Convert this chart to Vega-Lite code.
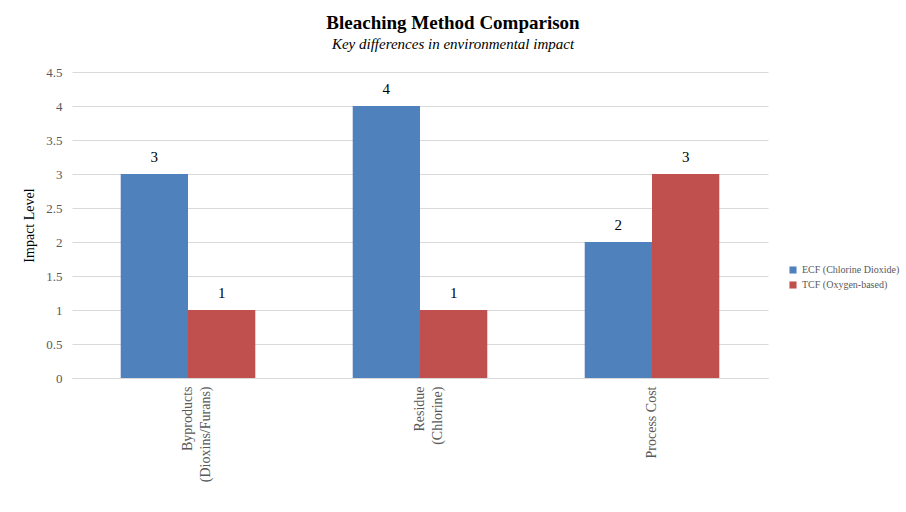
{
  "$schema": "https://vega.github.io/schema/vega-lite/v6.json",
  "autosize": {"type": "none"},
  "width": 696,
  "height": 306,
  "padding": {"left": 72, "top": 72, "right": 138, "bottom": 134},
  "background": "white",
  "title": {
    "text": "Bleaching Method Comparison",
    "subtitle": "Key differences in environmental impact",
    "anchor": "middle",
    "dx": 33,
    "offset": 14,
    "font": "Liberation Serif",
    "fontSize": 19,
    "fontWeight": "bold",
    "color": "#000000",
    "subtitleFont": "Liberation Serif",
    "subtitleFontSize": 15,
    "subtitleFontStyle": "italic",
    "subtitleColor": "#000000",
    "subtitlePadding": 4
  },
  "data": {
    "values": [
      {"category": "Byproducts\n(Dioxins/Furans)", "method": "ECF (Chlorine Dioxide)", "impact": 3},
      {"category": "Byproducts\n(Dioxins/Furans)", "method": "TCF (Oxygen-based)", "impact": 1},
      {"category": "Residue\n(Chlorine)", "method": "ECF (Chlorine Dioxide)", "impact": 4},
      {"category": "Residue\n(Chlorine)", "method": "TCF (Oxygen-based)", "impact": 1},
      {"category": "Process Cost", "method": "ECF (Chlorine Dioxide)", "impact": 2},
      {"category": "Process Cost", "method": "TCF (Oxygen-based)", "impact": 3}
    ]
  },
  "encoding": {
    "x": {
      "field": "category",
      "type": "nominal",
      "sort": null,
      "scale": {"paddingInner": 0.42, "paddingOuter": 0.21},
      "axis": {
        "title": null,
        "labelAngle": 270,
        "labelAlign": "right",
        "labelBaseline": "middle",
        "labelExpr": "split(datum.label, '\\n')",
        "labelFont": "Liberation Serif",
        "labelFontSize": 14,
        "labelColor": "#595959",
        "labelPadding": 8,
        "labelLineHeight": 18,
        "domainColor": "#d9d9d9",
        "ticks": false
      }
    },
    "xOffset": {"field": "method", "type": "nominal", "sort": null},
    "y": {
      "field": "impact",
      "type": "quantitative",
      "scale": {"domain": [0, 4.5]},
      "axis": {
        "title": "Impact Level",
        "titleFont": "Liberation Serif",
        "titleFontSize": 14,
        "titleFontWeight": "normal",
        "titleColor": "#000000",
        "titlePadding": 9,
        "values": [0, 0.5, 1, 1.5, 2, 2.5, 3, 3.5, 4, 4.5],
        "format": "~g",
        "labelFont": "Liberation Serif",
        "labelFontSize": 13,
        "labelColor": "#595959",
        "labelPadding": 10,
        "domain": false,
        "ticks": false,
        "gridColor": "#d9d9d9"
      }
    }
  },
  "layer": [
    {
      "mark": {"type": "bar"},
      "encoding": {
        "color": {
          "field": "method",
          "type": "nominal",
          "sort": null,
          "scale": {"range": ["#4F81BD", "#C0504D"]},
          "legend": {
            "title": null,
            "orient": "none",
            "legendX": 716,
            "legendY": 193,
            "symbolType": "square",
            "symbolSize": 50,
            "symbolStrokeWidth": 0,
            "labelFont": "Liberation Serif",
            "labelFontSize": 10,
            "labelColor": "#595959",
            "rowPadding": 5
          }
        }
      }
    },
    {
      "mark": {"type": "text", "baseline": "bottom", "dy": -9, "font": "Liberation Serif", "fontSize": 15, "color": "#000000"},
      "encoding": {
        "text": {"field": "impact", "type": "quantitative"}
      }
    }
  ],
  "config": {
    "view": {"stroke": null}
  }
}
